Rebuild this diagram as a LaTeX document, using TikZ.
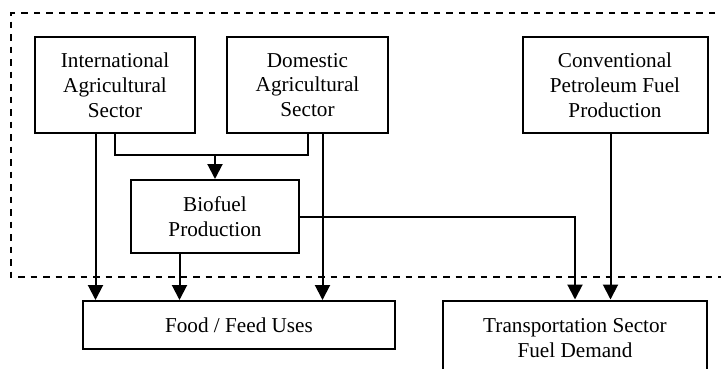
\documentclass[tikz,border=0pt]{standalone}
\usepackage{fontspec}
\setmainfont{Liberation Serif}
\usetikzlibrary{arrows.meta}
\begin{document}
\begin{tikzpicture}[x=1pt,y=-1pt,
  box/.style={draw,line width=2pt,align=center,inner sep=0pt,
    font=\fontsize{21.2}{24.8}\selectfont},
  conn/.style={line width=2pt},
  arr/.style={conn,-{Triangle[length=15pt,width=15pt]}},
  boundary/.style={line width=1.8pt,dash pattern=on 6.5pt off 6pt}]
\clip (0,0) rectangle (721,368);
\node[box,minimum width=160,minimum height=96] (intl) at (115,85) {International\\Agricultural\\Sector};
\node[box,minimum width=161,minimum height=96] (dom) at (307.5,85) {Domestic\\Agricultural\\Sector};
\node[box,minimum width=185,minimum height=96] (conv) at (615,85) {Conventional\\Petroleum Fuel\\Production};
\node[box,minimum width=168,minimum height=73] (bio) at (215,216.5) {Biofuel\\Production};
\node[box,minimum width=312,minimum height=48] (food) at (239,325) {Food / Feed Uses};
\node[box,minimum width=264,minimum height=75] (trans) at (575,338) {Transportation Sector\\Fuel Demand};
\coordinate (m) at (215,155);
\coordinate (ba) at (740,13);
\coordinate (bb) at (11,13);
\coordinate (bc) at (11,277);
\coordinate (bd) at (740,277);
\draw[boundary] (ba) -- (bb) -- (bc) -- (bd);
\draw[conn] (intl.south) |- (m) -| (dom.south);
\draw[arr] (m) -- (bio.north);
\draw[arr] ([xshift=-19.5pt]intl.south) -- ([xshift=-19.5pt]intl.south |- food.north);
\draw[arr] ([xshift=15pt]dom.south) -- ([xshift=15pt]dom.south |- food.north);
\draw[arr] ([xshift=-35.5pt]bio.south) -- ([xshift=-35.5pt]bio.south |- food.north);
\draw[arr] (bio.east) -| (trans.north);
\draw[arr] ([xshift=-4.5pt]conv.south) -- ([xshift=-4.5pt]conv.south |- trans.north);
\end{tikzpicture}
\end{document}
